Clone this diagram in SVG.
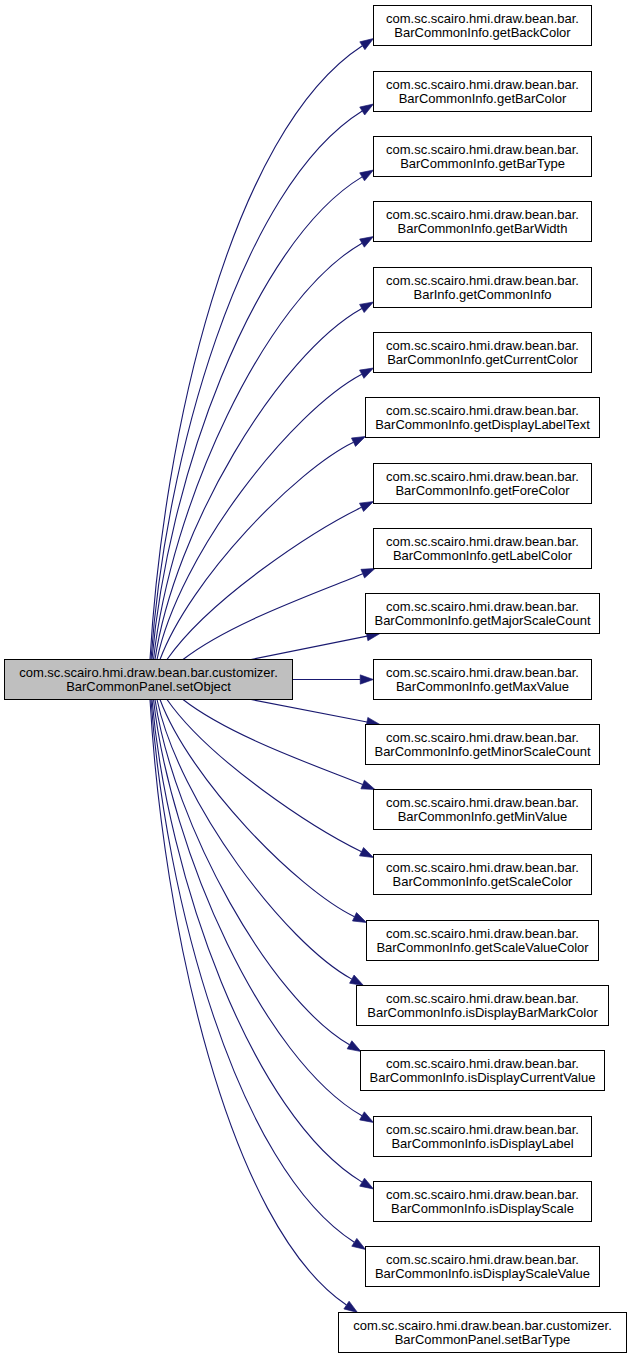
<svg xmlns="http://www.w3.org/2000/svg" width="632" height="1359" viewBox="0 0 632 1359">
<style>
.n rect{fill:#fff;stroke:#000;stroke-width:1}
.m rect{fill:#bfbfbf;stroke:#000;stroke-width:1}
text{font-family:"Liberation Sans",Arial,sans-serif;font-size:13px;fill:#000;text-anchor:middle}
.e path{fill:none;stroke:#191970;stroke-width:1.1;marker-end:url(#arr)}
</style>
<defs>
<marker id="arr" markerUnits="userSpaceOnUse" markerWidth="14" markerHeight="10" viewBox="0 -5 14 10" refX="0" refY="0" orient="auto" overflow="visible">
<path d="M0,-4.67L13.3,0L0,4.67z" fill="#191970" stroke="#191970" stroke-width="0.6"/>
</marker>
</defs>
<rect width="632" height="1359" fill="#fff"/>
<g class="e" id="edges">
<path d="M150,659.5 C163,436 230.5,131.7 362.36,45.76"/>
<path d="M151,659.5 C165,459.5 240,187.3 362.22,111.04"/>
<path d="M152,659.5 C167,483.3 251.7,243.4 362.11,176.87"/>
<path d="M153.5,659.5 C170.5,507.2 263.5,300 361.98,243.15"/>
<path d="M155,659.5 C174,530.8 277.4,355.6 361.88,308.48"/>
<path d="M157,659.5 C179,554.6 291.2,411.7 361.76,374.24"/>
<path d="M160,659.5 C190,579.2 296,470 353.5,442.24"/>
<path d="M167,659.5 C209.5,598.8 312.75,531.1 361.54,507.33"/>
<path d="M183,659.5 C230,622.8 316.6,593.1 362.74,573.66"/>
<path d="M251,659.5 L366.96,636.13"/>
<path d="M292.5,679.5 L360.2,679.5"/>
<path d="M251,699.5 L366.94,721.97"/>
<path d="M183,699.5 C230,736.2 316.6,765.9 362.67,784.52"/>
<path d="M167,699.5 C209.5,760.2 312.75,827.9 361.54,851.67"/>
<path d="M160,699.5 C190,779.8 297,889 354.5,916.76"/>
<path d="M157,699.5 C179,802.5 285,942.6 351.83,979.13"/>
<path d="M155,699.5 C174,826.2 270.4,998.7 349.51,1044.81"/>
<path d="M153.5,699.5 C170.5,851.8 263.5,1059 361.98,1115.85"/>
<path d="M152,699.5 C167,875.7 251.7,1115.6 362.11,1182.13"/>
<path d="M151,699.5 C165,897.5 236.6,1167 354.31,1242.31"/>
<path d="M150,699.5 C163,925 228,1225 346.48,1305.05"/>
</g>
<g class="m" id="main"><rect x="4.5" y="659.5" width="288" height="40"/><text x="148.5" y="677">com.sc.scairo.hmi.draw.bean.bar.customizer.</text><text x="148.5" y="691">BarCommonPanel.setObject</text></g>
<g class="n" id="n0"><rect x="373.5" y="5.5" width="218" height="40"/><text x="482.5" y="23">com.sc.scairo.hmi.draw.bean.bar.</text><text x="482.5" y="37">BarCommonInfo.getBackColor</text></g>
<g class="n" id="n1"><rect x="373.5" y="71.5" width="218" height="40"/><text x="482.5" y="89">com.sc.scairo.hmi.draw.bean.bar.</text><text x="482.5" y="103">BarCommonInfo.getBarColor</text></g>
<g class="n" id="n2"><rect x="373.5" y="136.5" width="218" height="40"/><text x="482.5" y="154">com.sc.scairo.hmi.draw.bean.bar.</text><text x="482.5" y="168">BarCommonInfo.getBarType</text></g>
<g class="n" id="n3"><rect x="373.5" y="201.5" width="218" height="40"/><text x="482.5" y="219">com.sc.scairo.hmi.draw.bean.bar.</text><text x="482.5" y="233">BarCommonInfo.getBarWidth</text></g>
<g class="n" id="n4"><rect x="373.5" y="267.5" width="218" height="40"/><text x="482.5" y="285">com.sc.scairo.hmi.draw.bean.bar.</text><text x="482.5" y="299">BarInfo.getCommonInfo</text></g>
<g class="n" id="n5"><rect x="373.5" y="332.5" width="218" height="40"/><text x="482.5" y="350">com.sc.scairo.hmi.draw.bean.bar.</text><text x="482.5" y="364">BarCommonInfo.getCurrentColor</text></g>
<g class="n" id="n6"><rect x="365.5" y="397.5" width="234" height="40"/><text x="482.5" y="415">com.sc.scairo.hmi.draw.bean.bar.</text><text x="482.5" y="429">BarCommonInfo.getDisplayLabelText</text></g>
<g class="n" id="n7"><rect x="373.5" y="463.5" width="218" height="40"/><text x="482.5" y="481">com.sc.scairo.hmi.draw.bean.bar.</text><text x="482.5" y="495">BarCommonInfo.getForeColor</text></g>
<g class="n" id="n8"><rect x="373.5" y="528.5" width="218" height="40"/><text x="482.5" y="546">com.sc.scairo.hmi.draw.bean.bar.</text><text x="482.5" y="560">BarCommonInfo.getLabelColor</text></g>
<g class="n" id="n9"><rect x="365.5" y="593.5" width="234" height="40"/><text x="482.5" y="611">com.sc.scairo.hmi.draw.bean.bar.</text><text x="482.5" y="625">BarCommonInfo.getMajorScaleCount</text></g>
<g class="n" id="n10"><rect x="373.5" y="659.5" width="218" height="40"/><text x="482.5" y="677">com.sc.scairo.hmi.draw.bean.bar.</text><text x="482.5" y="691">BarCommonInfo.getMaxValue</text></g>
<g class="n" id="n11"><rect x="365.5" y="724.5" width="234" height="40"/><text x="482.5" y="742">com.sc.scairo.hmi.draw.bean.bar.</text><text x="482.5" y="756">BarCommonInfo.getMinorScaleCount</text></g>
<g class="n" id="n12"><rect x="373.5" y="789.5" width="218" height="40"/><text x="482.5" y="807">com.sc.scairo.hmi.draw.bean.bar.</text><text x="482.5" y="821">BarCommonInfo.getMinValue</text></g>
<g class="n" id="n13"><rect x="373.5" y="854.5" width="218" height="40"/><text x="482.5" y="872">com.sc.scairo.hmi.draw.bean.bar.</text><text x="482.5" y="886">BarCommonInfo.getScaleColor</text></g>
<g class="n" id="n14"><rect x="366.5" y="920.5" width="232" height="40"/><text x="482.5" y="938">com.sc.scairo.hmi.draw.bean.bar.</text><text x="482.5" y="952">BarCommonInfo.getScaleValueColor</text></g>
<g class="n" id="n15"><rect x="356.5" y="985.5" width="252" height="40"/><text x="482.5" y="1003">com.sc.scairo.hmi.draw.bean.bar.</text><text x="482.5" y="1017">BarCommonInfo.isDisplayBarMarkColor</text></g>
<g class="n" id="n16"><rect x="360.5" y="1050.5" width="244" height="40"/><text x="482.5" y="1068">com.sc.scairo.hmi.draw.bean.bar.</text><text x="482.5" y="1082">BarCommonInfo.isDisplayCurrentValue</text></g>
<g class="n" id="n17"><rect x="373.5" y="1116.5" width="218" height="40"/><text x="482.5" y="1134">com.sc.scairo.hmi.draw.bean.bar.</text><text x="482.5" y="1148">BarCommonInfo.isDisplayLabel</text></g>
<g class="n" id="n18"><rect x="373.5" y="1181.5" width="218" height="40"/><text x="482.5" y="1199">com.sc.scairo.hmi.draw.bean.bar.</text><text x="482.5" y="1213">BarCommonInfo.isDisplayScale</text></g>
<g class="n" id="n19"><rect x="365.5" y="1246.5" width="234" height="40"/><text x="482.5" y="1264">com.sc.scairo.hmi.draw.bean.bar.</text><text x="482.5" y="1278">BarCommonInfo.isDisplayScaleValue</text></g>
<g class="n" id="n20"><rect x="338.5" y="1312.5" width="288" height="40"/><text x="482.5" y="1330">com.sc.scairo.hmi.draw.bean.bar.customizer.</text><text x="482.5" y="1344">BarCommonPanel.setBarType</text></g>
</svg>
